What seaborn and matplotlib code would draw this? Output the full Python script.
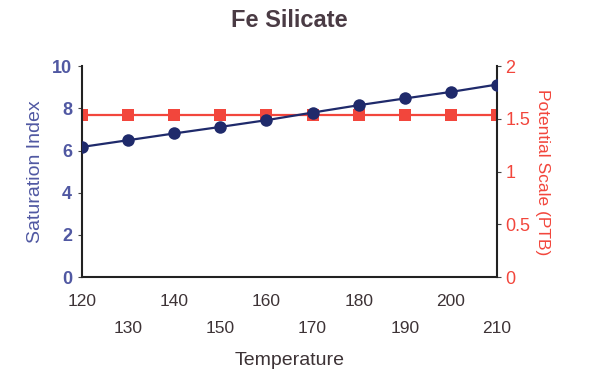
import pandas as pd
import matplotlib
matplotlib.use("Agg")
import matplotlib.pyplot as plt
import seaborn as sns

sns.set_style("white")
plt.rcParams["font.family"] = ["Liberation Sans", "DejaVu Sans"]

# ===== DADOS =====
temperatura = [120, 130, 140, 150, 160, 170, 180, 190, 200, 210]
saturation_index = [6.17, 6.49, 6.81, 7.12, 7.44, 7.80, 8.15, 8.47, 8.78, 9.13]
potential_scale = [1.54, 1.54, 1.54, 1.54, 1.54, 1.54, 1.54, 1.54, 1.54, 1.54]

df = pd.DataFrame({
    "Temperature": temperatura,
    "Saturation Index": saturation_index,
    "Potential Scale": potential_scale,
})

azul_texto = "#5058a2"
azul_linha = "#1f2a6b"
vermelho = "#f2463c"
cinza = "#3d3336"
titulo_cor = "#4a3b44"

fig = plt.figure(figsize=(5.89, 3.76), dpi=100)
ax = fig.add_axes([0.139, 0.263, 0.705, 0.561])
ax2 = ax.twinx()

sns.lineplot(data=df, x="Temperature", y="Saturation Index", ax=ax, color=azul_linha,
             marker="o", markersize=9, markeredgewidth=0, linewidth=1.6, zorder=3)
sns.lineplot(data=df, x="Temperature", y="Potential Scale", ax=ax2, color=vermelho,
             marker="s", markersize=8.5, markeredgewidth=0, linewidth=1.6)
ax.set_zorder(ax2.get_zorder() + 1)
ax.patch.set_visible(False)

ax.set_xlim(120, 210)
ax.set_ylim(0, 10)
ax2.set_ylim(0, 2)

ax.set_xticks(temperatura)
ax.set_xticklabels([str(t) if i % 2 == 0 else "\n" + str(t) for i, t in enumerate(temperatura)],
                   fontsize=12.5, color=cinza, linespacing=2.0)
ax.set_yticks([0, 2, 4, 6, 8, 10])
ax.set_yticklabels(["0", "2", "4", "6", "8", "10"], fontsize=13, color=azul_texto,
                   fontweight="bold")
ax2.set_yticks([0, 0.5, 1, 1.5, 2])
ax2.set_yticklabels(["0", "0.5", "1", "1.5", "2"], fontsize=13, color=vermelho)

ax.tick_params(axis="both", direction="out", length=3, width=0.8, color="#444444", pad=4)
ax.tick_params(axis="x", pad=9)
ax2.tick_params(axis="y", direction="out", length=3, width=0.8, color="#444444", pad=3)

for lado in ["left", "bottom"]:
    ax.spines[lado].set_color("#222222")
    ax.spines[lado].set_linewidth(1.5)
ax.spines["top"].set_visible(False)
ax.spines["right"].set_visible(False)
ax2.spines["right"].set_color("#222222")
ax2.spines["right"].set_linewidth(1.5)
ax2.spines["top"].set_visible(False)
ax2.spines["left"].set_visible(False)
ax2.spines["bottom"].set_visible(False)

ax.set_xlabel("Temperature", fontsize=14, color=cinza, labelpad=12)
ax.set_ylabel("Saturation Index", fontsize=14, color=azul_texto, labelpad=6)
ax2.set_ylabel("Potential Scale (PTB)", fontsize=12.5, color=vermelho, rotation=-90, labelpad=14)
ax.set_title("Fe Silicate", fontsize=17, color=titulo_cor, fontweight="bold", pad=28)

fig.savefig("out.png", dpi=100)
